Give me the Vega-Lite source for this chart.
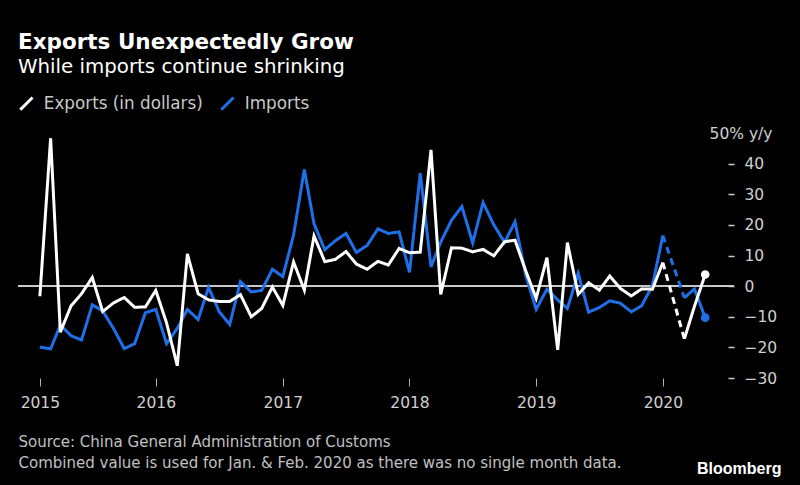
{
  "$schema": "https://vega.github.io/schema/vega-lite/v6.json",
  "width": 716,
  "height": 245,
  "autosize": {"type": "none"},
  "padding": {"left": 18, "top": 133, "right": 66, "bottom": 107},
  "background": "#000000",
  "title": {
    "text": "Exports Unexpectedly Grow",
    "subtitle": "While imports continue shrinking",
    "anchor": "start",
    "frame": "group",
    "color": "#ffffff",
    "font": "DejaVu Sans",
    "fontSize": 21.5,
    "fontWeight": "bold",
    "subtitleColor": "#ffffff",
    "subtitleFont": "DejaVu Sans",
    "subtitleFontSize": 19.8,
    "subtitlePadding": 4,
    "offset": 18
  },
  "data": {
    "values": [
      {"date": "2015-01-01", "part": "a", "Exports (in dollars)": -3.3, "Imports": -19.9},
      {"date": "2015-02-01", "part": "a", "Exports (in dollars)": 48.3, "Imports": -20.5},
      {"date": "2015-03-01", "part": "a", "Exports (in dollars)": -15.0, "Imports": -12.7},
      {"date": "2015-04-01", "part": "a", "Exports (in dollars)": -6.4, "Imports": -16.2},
      {"date": "2015-05-01", "part": "a", "Exports (in dollars)": -2.5, "Imports": -17.6},
      {"date": "2015-06-01", "part": "a", "Exports (in dollars)": 2.8, "Imports": -6.1},
      {"date": "2015-07-01", "part": "a", "Exports (in dollars)": -8.3, "Imports": -8.1},
      {"date": "2015-08-01", "part": "a", "Exports (in dollars)": -5.5, "Imports": -13.8},
      {"date": "2015-09-01", "part": "a", "Exports (in dollars)": -3.7, "Imports": -20.4},
      {"date": "2015-10-01", "part": "a", "Exports (in dollars)": -6.9, "Imports": -18.8},
      {"date": "2015-11-01", "part": "a", "Exports (in dollars)": -6.8, "Imports": -8.7},
      {"date": "2015-12-01", "part": "a", "Exports (in dollars)": -1.4, "Imports": -7.6},
      {"date": "2016-01-01", "part": "a", "Exports (in dollars)": -12.0, "Imports": -18.8},
      {"date": "2016-02-01", "part": "a", "Exports (in dollars)": -26.0, "Imports": -13.8},
      {"date": "2016-03-01", "part": "a", "Exports (in dollars)": 10.5, "Imports": -7.6},
      {"date": "2016-04-01", "part": "a", "Exports (in dollars)": -2.5, "Imports": -10.9},
      {"date": "2016-05-01", "part": "a", "Exports (in dollars)": -4.5, "Imports": -0.4},
      {"date": "2016-06-01", "part": "a", "Exports (in dollars)": -5.0, "Imports": -8.4},
      {"date": "2016-07-01", "part": "a", "Exports (in dollars)": -5.0, "Imports": -12.5},
      {"date": "2016-08-01", "part": "a", "Exports (in dollars)": -2.8, "Imports": 1.5},
      {"date": "2016-09-01", "part": "a", "Exports (in dollars)": -10.0, "Imports": -1.9},
      {"date": "2016-10-01", "part": "a", "Exports (in dollars)": -7.3, "Imports": -1.4},
      {"date": "2016-11-01", "part": "a", "Exports (in dollars)": -0.3, "Imports": 5.5},
      {"date": "2016-12-01", "part": "a", "Exports (in dollars)": -6.3, "Imports": 3.1},
      {"date": "2017-01-01", "part": "a", "Exports (in dollars)": 7.9, "Imports": 16.7},
      {"date": "2017-02-01", "part": "a", "Exports (in dollars)": -1.3, "Imports": 38.1},
      {"date": "2017-03-01", "part": "a", "Exports (in dollars)": 16.4, "Imports": 20.3},
      {"date": "2017-04-01", "part": "a", "Exports (in dollars)": 8.0, "Imports": 11.9},
      {"date": "2017-05-01", "part": "a", "Exports (in dollars)": 8.7, "Imports": 14.8},
      {"date": "2017-06-01", "part": "a", "Exports (in dollars)": 11.3, "Imports": 17.2},
      {"date": "2017-07-01", "part": "a", "Exports (in dollars)": 7.2, "Imports": 11.0},
      {"date": "2017-08-01", "part": "a", "Exports (in dollars)": 5.5, "Imports": 13.3},
      {"date": "2017-09-01", "part": "a", "Exports (in dollars)": 8.1, "Imports": 18.7},
      {"date": "2017-10-01", "part": "a", "Exports (in dollars)": 6.9, "Imports": 17.2},
      {"date": "2017-11-01", "part": "a", "Exports (in dollars)": 12.3, "Imports": 17.7},
      {"date": "2017-12-01", "part": "a", "Exports (in dollars)": 10.9, "Imports": 4.5},
      {"date": "2018-01-01", "part": "a", "Exports (in dollars)": 11.1, "Imports": 36.9},
      {"date": "2018-02-01", "part": "a", "Exports (in dollars)": 44.5, "Imports": 6.3},
      {"date": "2018-03-01", "part": "a", "Exports (in dollars)": -2.7, "Imports": 14.4},
      {"date": "2018-04-01", "part": "a", "Exports (in dollars)": 12.5, "Imports": 21.5},
      {"date": "2018-05-01", "part": "a", "Exports (in dollars)": 12.4, "Imports": 26.0},
      {"date": "2018-06-01", "part": "a", "Exports (in dollars)": 11.2, "Imports": 14.1},
      {"date": "2018-07-01", "part": "a", "Exports (in dollars)": 12.0, "Imports": 27.3},
      {"date": "2018-08-01", "part": "a", "Exports (in dollars)": 9.9, "Imports": 20.0},
      {"date": "2018-09-01", "part": "a", "Exports (in dollars)": 14.5, "Imports": 14.3},
      {"date": "2018-10-01", "part": "a", "Exports (in dollars)": 15.0, "Imports": 21.0},
      {"date": "2018-11-01", "part": "a", "Exports (in dollars)": 5.0, "Imports": 3.5},
      {"date": "2018-12-01", "part": "a", "Exports (in dollars)": -4.0, "Imports": -7.6},
      {"date": "2019-01-01", "part": "a", "Exports (in dollars)": 9.3, "Imports": -1.0},
      {"date": "2019-02-01", "part": "a", "Exports (in dollars)": -20.8, "Imports": -4.5},
      {"date": "2019-03-01", "part": "a", "Exports (in dollars)": 14.2, "Imports": -7.3},
      {"date": "2019-04-01", "part": "a", "Exports (in dollars)": -2.7, "Imports": 4.2},
      {"date": "2019-05-01", "part": "a", "Exports (in dollars)": 1.1, "Imports": -8.5},
      {"date": "2019-06-01", "part": "a", "Exports (in dollars)": -1.3, "Imports": -7.0},
      {"date": "2019-07-01", "part": "a", "Exports (in dollars)": 3.3, "Imports": -4.8},
      {"date": "2019-08-01", "part": "a", "Exports (in dollars)": -0.8, "Imports": -5.6},
      {"date": "2019-09-01", "part": "a", "Exports (in dollars)": -3.2, "Imports": -8.4},
      {"date": "2019-10-01", "part": "a", "Exports (in dollars)": -0.9, "Imports": -6.4},
      {"date": "2019-11-01", "part": "a", "Exports (in dollars)": -1.0, "Imports": 0.2},
      {"date": "2019-12-01", "part": "a", "Exports (in dollars)": 7.7, "Imports": 16.5},
      {"date": "2019-12-01", "part": "b", "Exports (in dollars)": 7.7, "Imports": 16.5},
      {"date": "2020-02-01", "part": "b", "Exports (in dollars)": -17.2, "Imports": -3.8},
      {"date": "2020-02-01", "part": "c", "Exports (in dollars)": -17.2, "Imports": -3.8},
      {"date": "2020-03-01", "part": "c", "Exports (in dollars)": -6.6, "Imports": -0.9},
      {"date": "2020-04-01", "part": "c", "Exports (in dollars)": 3.8, "Imports": -10.3}
    ]
  },
  "transform": [
    {"fold": ["Imports", "Exports (in dollars)"], "as": ["series", "value"]}
  ],
  "encoding": {
    "x": {
      "field": "date",
      "type": "temporal",
      "scale": {
        "domain": [
          {"year": 2014, "month": 10, "date": 30, "utc": true},
          {"year": 2020, "month": 6, "date": 23, "utc": true}
        ]
      },
      "axis": {
        "values": [
          {"year": 2015, "month": 1, "date": 1, "utc": true},
          {"year": 2015, "month": 12, "date": 1, "utc": true},
          {"year": 2016, "month": 12, "date": 1, "utc": true},
          {"year": 2017, "month": 12, "date": 1, "utc": true},
          {"year": 2018, "month": 12, "date": 1, "utc": true},
          {"year": 2019, "month": 12, "date": 1, "utc": true}
        ],
        "labelExpr": "'' + (utcmonth(datum.value) == 11 ? utcyear(datum.value) + 1 : utcyear(datum.value))",
        "domain": false,
        "grid": false,
        "ticks": true,
        "tickColor": "#b0b0b0",
        "tickSize": 8,
        "tickWidth": 1,
        "labelColor": "#d0d0d0",
        "labelFont": "DejaVu Sans",
        "labelFontSize": 15.5,
        "labelPadding": 9,
        "labelFlush": false,
        "labelOverlap": false,
        "title": [
          "Source: China General Administration of Customs",
          "Combined value is used for Jan. & Feb. 2020 as there was no single month data."
        ],
        "titleAlign": "left",
        "titleAnchor": "start",
        "titleBaseline": "alphabetic",
        "titleX": 0,
        "titleY": 68,
        "titleColor": "#c0c0c0",
        "titleFont": "DejaVu Sans Condensed",
        "titleFontSize": 16.7,
        "titleFontWeight": "normal",
        "titleLineHeight": 21
      }
    },
    "y": {
      "field": "value",
      "type": "quantitative",
      "scale": {"domain": [-30, 50], "nice": false, "zero": false},
      "axis": {
        "orient": "right",
        "values": [-30, -20, -10, 0, 10, 20, 30, 40, 50],
        "labelExpr": "datum.value == 50 ? '50% y/y' : datum.label",
        "domain": false,
        "grid": false,
        "offset": -6,
        "tickSize": 6,
        "tickWidth": 1.5,
        "tickColor": "#c8c8c8",
        "tickOpacity": {"condition": {"test": "datum.value == 50", "value": 0}, "value": 1},
        "labelAlign": {"condition": {"test": "datum.value == 50", "value": "right"}, "value": "left"},
        "labelPadding": {"condition": {"test": "datum.value == 50", "value": 38}, "value": 10},
        "labelColor": "#d0d0d0",
        "labelFont": "DejaVu Sans",
        "labelFontSize": 15.5,
        "labelOverlap": false,
        "labelFlush": false,
        "title": "Bloomberg",
        "titleAngle": 0,
        "titleAlign": "right",
        "titleBaseline": "alphabetic",
        "titleX": 53,
        "titleY": 340,
        "titleColor": "#ffffff",
        "titleFont": "Liberation Sans",
        "titleFontSize": 16,
        "titleFontWeight": "bold"
      }
    }
  },
  "layer": [
    {
      "mark": {"type": "rule", "color": "#c8c8c8", "strokeWidth": 1.5},
      "encoding": {"y": {"datum": 0}, "x": null}
    },
    {
      "mark": {"type": "line", "strokeWidth": 3, "strokeJoin": "miter"},
      "encoding": {
        "color": {
          "field": "series",
          "type": "nominal",
          "scale": {"domain": ["Exports (in dollars)", "Imports"], "range": ["#ffffff", "#1f70e8"]},
          "legend": {
            "orient": "none",
            "legendX": 0,
            "legendY": -38,
            "direction": "horizontal",
            "title": null,
            "symbolType": "M-1,1L1,-1",
            "symbolSize": 150,
            "symbolStrokeWidth": 3,
            "labelColor": "#c8c8c8",
            "labelFont": "DejaVu Sans",
            "labelFontSize": 16.8,
            "labelOffset": 9,
            "columnPadding": 12,
            "padding": 0
          }
        },
        "strokeDash": {
          "field": "part",
          "type": "nominal",
          "scale": {"domain": ["a", "b", "c"], "range": [[1, 0], [7, 5], [1, 0]]},
          "legend": null
        }
      }
    },
    {
      "transform": [
        {"filter": {"field": "date", "equal": {"year": 2020, "month": 4, "date": 1, "utc": true}}}
      ],
      "mark": {"type": "point", "filled": true, "size": 75, "opacity": 1},
      "encoding": {
        "color": {"field": "series", "type": "nominal", "legend": null}
      }
    }
  ],
  "config": {
    "view": {"stroke": null}
  }
}
